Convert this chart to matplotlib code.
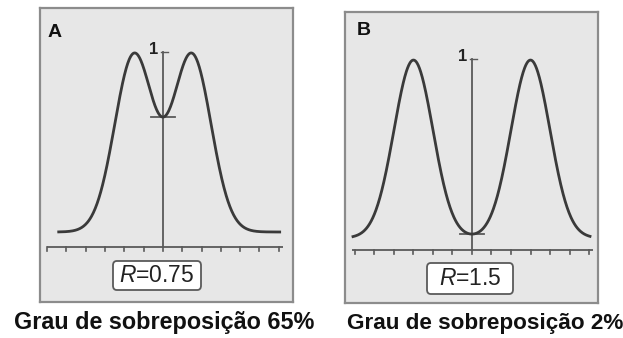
import numpy as np
import matplotlib
matplotlib.use("Agg")
import matplotlib.pyplot as plt
from matplotlib.patches import FancyBboxPatch

plt.rcParams["mathtext.fontset"] = "custom"
plt.rcParams["mathtext.it"] = "Liberation Sans:italic"
plt.rcParams["mathtext.rm"] = "Liberation Sans"

# ---- data ----
panel_letters = ["A", "B"]
resolutions = [0.75, 1.5]                  # R values
r_labels = ["0.75", "1.5"]
overlap_labels = ["Grau de sobreposição 65%", "Grau de sobreposição 2%"]
curve_start = [-5.4, -6.1]                 # in sigma units
curve_end = [6.05, 6.05]
tick_positions = list(range(-6, 7))        # one tick per sigma
peak_label = "1"

W, H = 623, 338
fig = plt.figure(figsize=(W / 100, H / 100), dpi=100)
fig.patch.set_facecolor("white")

# layout (pixels): left, top, right, bottom of each panel box
boxes = [(40, 8, 293, 302), (345, 12, 598, 303)]
xlims = [(-6.37, 6.74), (-6.51, 6.46)]
ylims = [(-0.391, 1.251), (-0.365, 1.27)]
axis_y = [-0.084, -0.067]
axis_x = [(-6.0, 6.2), (-6.15, 6.2)]
rbox_px = [(113, 261, 201, 290), (427, 263, 513, 294)]
letter_pos = [(0.03, 0.915), (0.045, 0.935)]
caption_x = [164, 485]
caption_size = [16.8, 16.2]

curve_color = "#3a3a3a"
line_color = "#5a5a5a"

for i in range(2):
    l, t, r, b = boxes[i]
    ax = fig.add_axes([l / W, (H - b) / H, (r - l) / W, (b - t) / H])
    ax.set_facecolor("#e7e7e7")
    for s in ax.spines.values():
        s.set_color("#8c8c8c")
        s.set_linewidth(1.6)
    ax.set_xticks([])
    ax.set_yticks([])
    ax.set_xlim(*xlims[i])
    ax.set_ylim(*ylims[i])

    R = resolutions[i]
    d = 4.0 * R  # peak separation in sigma units
    x = np.linspace(curve_start[i], curve_end[i], 600)
    y = np.exp(-(x - d / 2) ** 2 / 2) + np.exp(-(x + d / 2) ** 2 / 2)
    xf = np.linspace(-8, 8, 4001)
    norm = (np.exp(-(xf - d / 2) ** 2 / 2) + np.exp(-(xf + d / 2) ** 2 / 2)).max()
    y = y / norm
    dip = 2 * np.exp(-(d / 2) ** 2 / 2) / norm

    # baseline axis with ticks
    ya = axis_y[i]
    ax.plot(axis_x[i], [ya, ya], color=line_color, lw=1.3, solid_capstyle="butt")
    tick_len = 0.022
    for tp in tick_positions:
        ax.plot([tp, tp], [ya, ya - tick_len], color=line_color, lw=1.2)

    # vertical centre line
    ax.plot([0, 0], [ya, 1.005], color=line_color, lw=1.3)
    ax.plot([-0.1, 0.25], [1.005, 1.005], color=line_color, lw=1.0)
    # dip marker
    ax.plot([-0.6, 0.6], [dip, dip], color=line_color, lw=1.3)

    # curve
    ax.plot(x, y, color=curve_color, lw=2.0)

    # "1" label
    ax.text(-0.25, 1.02, peak_label, ha="right", va="center", fontsize=12,
            fontweight="bold", family="Liberation Sans", color="#222222")

    # panel letter
    ax.text(*letter_pos[i], panel_letters[i], transform=ax.transAxes,
            ha="left", va="center", fontsize=14, fontweight="bold",
            family="Liberation Sans", color="#111111")

    # R box
    bl, bt, br, bb = rbox_px[i]
    bx0 = (bl - l) / (r - l)
    by0 = (b - bb) / (b - t)
    bw = (br - bl) / (r - l)
    bh = (bb - bt) / (b - t)
    patch = FancyBboxPatch((bx0, by0), bw, bh,
                           boxstyle="round,pad=0,rounding_size=0.015",
                           transform=ax.transAxes, fc="white", ec="#5a5a5a",
                           lw=1.3, zorder=5)
    ax.add_patch(patch)
    ax.text(bx0 + bw / 2, by0 + bh / 2, r"$\mathit{R}$=" + r_labels[i],
            transform=ax.transAxes, ha="center", va="center", fontsize=16.5,
            family="Liberation Sans", color="#222222", zorder=6)

    fig.text(caption_x[i] / W, 1 - 323 / H, overlap_labels[i], ha="center",
             va="center", fontsize=caption_size[i], fontweight="bold",
             family="Liberation Sans", color="#111111")

fig.savefig("out.png", dpi=100)
